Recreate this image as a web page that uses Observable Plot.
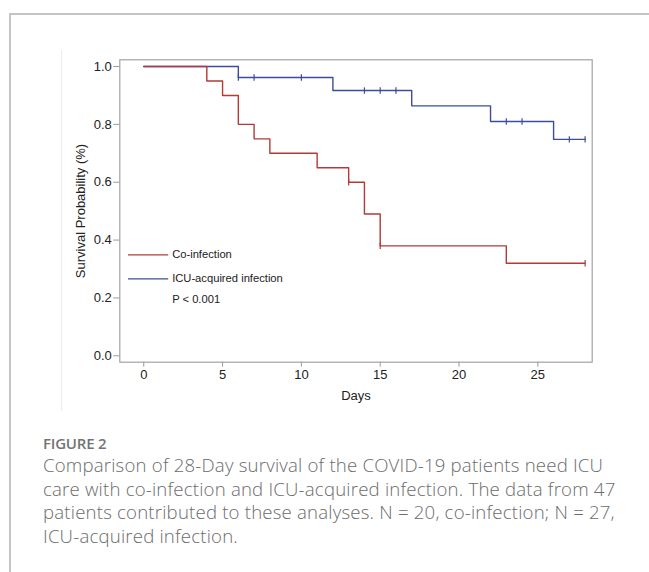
<!DOCTYPE html>
<html>
<head>
<meta charset="utf-8">
<script src="https://cdn.jsdelivr.net/npm/d3@7"></script>
<script src="https://cdn.jsdelivr.net/npm/@observablehq/plot@0.6"></script>
<style>
  html, body { margin: 0; padding: 0; background: #fff; }
  body { width: 649px; height: 572px; position: relative; overflow: hidden; }
  #topline { position: absolute; left: 9px; top: 13px; width: 640px; height: 0; border-top: 2px solid #c4c4c4; }
  #leftline { position: absolute; left: 9px; top: 13px; width: 0; height: 560px; border-left: 2px solid #c4c4c4; }
  #imgedge { position: absolute; left: 61px; top: 50px; width: 0; height: 361px; border-left: 1px solid #ececec; }
  #chart { position: absolute; left: 0; top: 0; }
  #figlabel { position: absolute; left: 43px; top: 433px; font-family: "Open Sans", sans-serif; font-weight: 600; font-size: 15px; color: #737373; letter-spacing: -0.2px; }
  #caption { position: absolute; left: 43px; top: 453px; font-family: "Open Sans", sans-serif; font-weight: 300; font-size: 18.6px; line-height: 23.6px; letter-spacing: 0.2px; color: #6b6b6b; white-space: nowrap; }
  #caption span { display: block; }
</style>
</head>
<body>
<div id="topline"></div>
<div id="leftline"></div>
<div id="imgedge"></div>
<div id="chart"></div>
<div id="figlabel">FIGURE 2</div>
<div id="caption">
  <span>Comparison of 28-Day survival of the COVID-19 patients need ICU</span>
  <span>care with co-infection and ICU-acquired infection. The data from 47</span>
  <span>patients contributed to these analyses. N = 20, co-infection; N = 27,</span>
  <span>ICU-acquired infection.</span>
</div>
<script>
// ---- data ----
const coDays = [0, 4, 5, 6, 7, 8, 11, 13, 14, 15, 23, 28];
const coSurv = [1.0, 0.95, 0.90, 0.80, 0.75, 0.70, 0.65, 0.60, 0.49, 0.38, 0.32, 0.32];
const coCensorDays = [13, 15, 28];
const coCensorSurv = [0.60, 0.38, 0.32];

const icuDays = [0, 6, 12, 17, 22, 26, 28];
const icuSurv = [1.0, 0.962, 0.917, 0.864, 0.81, 0.748, 0.748];
const icuCensorDays = [6, 7, 10, 14, 15, 16, 23, 24, 27, 28];
const icuCensorSurv = [0.962, 0.962, 0.962, 0.917, 0.917, 0.917, 0.81, 0.81, 0.748, 0.748];

const xTicks = [0, 5, 10, 15, 20, 25];
const yTicks = [0.0, 0.2, 0.4, 0.6, 0.8, 1.0];

const seriesNames = ["Co-infection", "ICU-acquired infection"];
const seriesColors = ["#b23a38", "#3d4d9c"];
const legendY = [0.349, 0.266];
const pValueText = "P < 0.001";
const xLabel = "Days";
const yLabel = "Survival Probability (%)";

// ---- tables ----
const co = coDays.map((d, i) => ({day: d, surv: coSurv[i]}));
const icu = icuDays.map((d, i) => ({day: d, surv: icuSurv[i]}));
const coC = coCensorDays.map((d, i) => ({day: d, surv: coCensorSurv[i]}));
const icuC = icuCensorDays.map((d, i) => ({day: d, surv: icuCensorSurv[i]}));

const vbar = {
  draw(context, size) {
    const r = Math.sqrt(size / Math.PI);
    context.moveTo(0, -r);
    context.lineTo(0, r);
  }
};

const font = '"Liberation Sans", Arial, sans-serif';

const plot = Plot.plot({
  width: 649,
  height: 410,
  marginLeft: 119.3,
  marginRight: 57.3,
  marginTop: 59.3,
  marginBottom: 48.3,
  style: {fontFamily: font, fontSize: "13px", color: "#222", background: "transparent"},
  x: {domain: [-1.52, 28.45]},
  y: {domain: [-0.0221, 1.0232]},
  marks: [
    Plot.frame({stroke: "#a3a3a3", strokeWidth: 1.2}),
    Plot.axisX({ticks: xTicks, tickSize: 5, tickPadding: 3, stroke: "#9a9a9a", fill: "#222", fontSize: 13, label: null, tickFormat: d => String(d)}),
    Plot.axisY({ticks: yTicks, tickSize: 6, tickPadding: 2, stroke: "#9a9a9a", fill: "#222", fontSize: 13, label: null, tickFormat: d3.format(".1f")}),
    Plot.text([xLabel], {frameAnchor: "bottom", dy: 38, text: d => d, fontSize: 13, fill: "#222"}),
    Plot.text([yLabel], {frameAnchor: "left", textAnchor: "middle", rotate: -90, dx: -39, text: d => d, fontSize: 13, fill: "#222"}),
    Plot.line(icu, {x: "day", y: "surv", curve: "step-after", stroke: seriesColors[1], strokeWidth: 1.4}),
    Plot.dot(icuC, {x: "day", y: "surv", symbol: vbar, r: 3.2, stroke: seriesColors[1], strokeWidth: 1.2}),
    Plot.line(co, {x: "day", y: "surv", curve: "step-after", stroke: seriesColors[0], strokeWidth: 1.4}),
    Plot.dot(coC, {x: "day", y: "surv", symbol: vbar, r: 3.2, stroke: seriesColors[0], strokeWidth: 1.2}),
    // legend inside the plot
    Plot.link(seriesNames, {x1: -1.0, x2: 1.55, y1: (d, i) => legendY[i], y2: (d, i) => legendY[i], stroke: (d, i) => seriesColors[i], strokeWidth: 1.2}),
    Plot.text(seriesNames, {x: 1.8, y: (d, i) => legendY[i], text: d => d, textAnchor: "start", fontSize: 11.2, fill: "#222"}),
    Plot.text([pValueText], {x: 1.8, y: 0.194, text: d => d, textAnchor: "start", fontSize: 11.2, fill: "#222"})
  ]
});
document.getElementById("chart").appendChild(plot);
</script>
</body>
</html>
